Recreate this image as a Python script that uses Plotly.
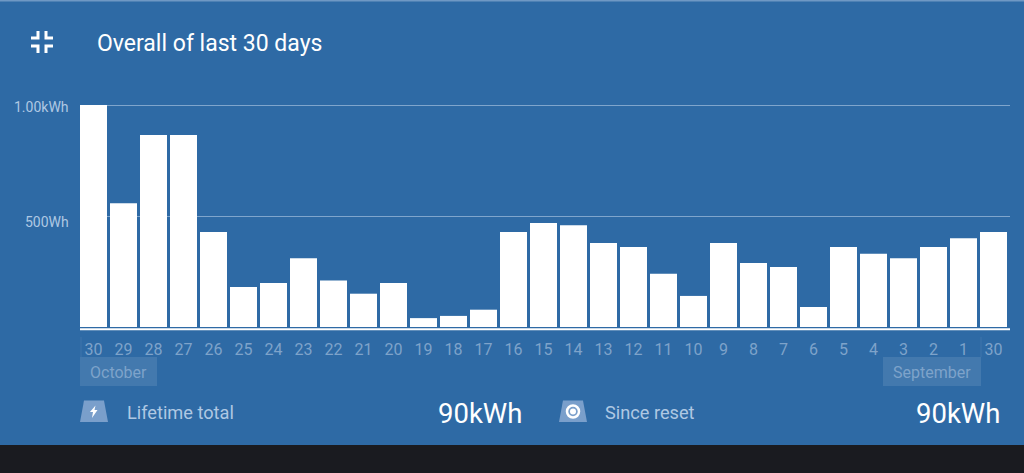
import plotly.graph_objects as go

# Data
day_labels = ["30","29","28","27","26","25","24","23","22","21","20","19","18","17","16",
              "15","14","13","12","11","10","9","8","7","6","5","4","3","2","1","30"]
energy_wh = [1000,557,865,865,428,180,198,310,210,150,198,40,50,78,428,
             468,458,378,360,240,140,378,288,270,90,360,330,310,360,400,428]
y_tick_values = [500, 1000]
y_tick_labels = ["500Wh", "1.00kWh"]
y_label_shift = [-6, -1.5]
title_text = "Overall of last 30 days"
month_labels = ["October", "September"]
stat_labels = ["Lifetime total", "Since reset"]
stat_values = ["90kWh", "90kWh"]

BG = "#2E6AA5"
DARK = "#1A1B20"
FONT = "Roboto"
W, H = 1024, 473
L, R, T, B = 80, 1010, 100, 330

def px(x):
    return (x - L) / (R - L)

def py(y):
    return (B - y) / (B - T)

def pth(points):
    return "M" + " L".join(f"{px(x):.5f},{py(y):.5f}" for x, y in points)

def pth_closed(points):
    return pth(points) + " Z"

positions = list(range(len(energy_wh)))

fig = go.Figure(go.Bar(
    x=positions, y=energy_wh, width=0.9,
    marker=dict(color="white", line_width=0), hoverinfo="skip",
))

shapes = []
def rect(x0, y0, x1, y1, color):
    shapes.append(dict(type="rect", xref="paper", yref="paper", layer="below",
                       x0=px(x0), x1=px(x1), y0=py(y0), y1=py(y1),
                       fillcolor=color, line_width=0))

def path(points, color, layer="above"):
    shapes.append(dict(type="path", xref="paper", yref="paper", layer=layer,
                       path=pth_closed(points), fillcolor=color, line_width=0))

def line(points, color, width):
    shapes.append(dict(type="path", xref="paper", yref="paper", layer="above",
                       path=pth(points), line=dict(color=color, width=width)))

# Dark band, top edge and month chips
rect(0, 445, W, H, DARK)
rect(0, 0, W, 1.5, "#6F98C4")
rect(80, 357, 157, 386, "rgba(255,255,255,0.10)")
rect(883, 357, 981, 386, "rgba(255,255,255,0.10)")
rect(80.5, 337, 81.5, 357, "rgba(255,255,255,0.08)")
rect(980.5, 337, 981.5, 357, "rgba(255,255,255,0.08)")

# Collapse icon
for a, b, c in [((38, 31), (38, 38), (31, 38)), ((46, 31), (46, 38), (53, 38)),
                ((38, 53), (38, 46), (31, 46)), ((46, 53), (46, 46), (53, 46))]:
    line([a, b, c], "white", 3)

# Stat icons
ICON = "#7A9FCB"
path([(84, 400.5), (104, 400.5), (108, 422), (80, 422)], ICON)
path([(95.5, 405.5), (90, 412), (93, 412), (92, 418), (97.5, 410), (94.5, 410)], "white")
path([(563, 400.5), (583, 400.5), (587, 422), (559, 422)], ICON)
shapes.append(dict(type="circle", xref="paper", yref="paper", layer="above",
                   x0=px(567), x1=px(579), y0=py(417.5), y1=py(405.5),
                   fillcolor="rgba(0,0,0,0)", line=dict(color="white", width=2.5)))
shapes.append(dict(type="circle", xref="paper", yref="paper", layer="above",
                   x0=px(570), x1=px(576), y0=py(414.5), y1=py(408.5),
                   fillcolor="white", line_width=0))

def text(x, y, s, size, color, anchor="left", weight=400):
    return dict(xref="paper", yref="paper", x=px(x), y=py(y), text=s, showarrow=False,
                xanchor=anchor, yanchor="middle",
                font=dict(family=FONT, size=size, color=color, weight=weight))

annotations = [
    text(95, 43, title_text, 23, "white"),
    text(118.5, 372, month_labels[0], 16, "#7EA3CA", "center"),
    text(932, 372, month_labels[1], 16, "#7EA3CA", "center"),
    text(125, 412.5, stat_labels[0], 18.2, "#AFC8E3"),
    text(603, 412.5, stat_labels[1], 18.2, "#AFC8E3"),
    text(524, 413, stat_values[0], 27.5, "white", "right"),
    text(1002, 413, stat_values[1], 27.5, "white", "right"),
]
# Value-axis labels sit below their grid lines by differing amounts, so they are placed individually
for value, label, shift in zip(y_tick_values, y_tick_labels, y_label_shift):
    annotations.append(dict(xref="paper", yref="y", x=px(70.5), y=value, yshift=shift, text=label,
                            showarrow=False, xanchor="right", yanchor="middle",
                            font=dict(family=FONT, size=14, color="#AFC8E3")))

fig.update_layout(
    width=W, height=H, autosize=False,
    margin=dict(l=L, r=W - R, t=T, b=H - B, autoexpand=False),
    paper_bgcolor=BG, plot_bgcolor=BG,
    showlegend=False, bargap=0.1,
    font=dict(family=FONT),
    shapes=shapes, annotations=annotations,
    xaxis=dict(
        range=[-0.45, 30.55], tickmode="array", tickvals=positions, ticktext=day_labels,
        showgrid=False, zeroline=False, showline=False,
        ticks="outside", ticklen=5, tickcolor="rgba(0,0,0,0)",
        tickangle=0, tickfont=dict(family=FONT, size=16, color="#7EA3CA"),
    ),
    yaxis=dict(
        range=[-13.5, 1022.5], tickmode="array", tickvals=y_tick_values,
        showticklabels=False,
        showgrid=True, gridcolor="#7FA5CC", gridwidth=1, zeroline=False, showline=False,
        ticks="",
    ),
)
# Baseline under the bars
fig.add_shape(type="line", xref="paper", yref="paper", x0=0, x1=1, y0=py(329.2), y1=py(329.2),
              line=dict(color="white", width=2), layer="above")

fig.write_html("out.html", config=dict(displayModeBar=False),
               post_script="document.body.style.margin='0';document.body.style.overflow='hidden';")
